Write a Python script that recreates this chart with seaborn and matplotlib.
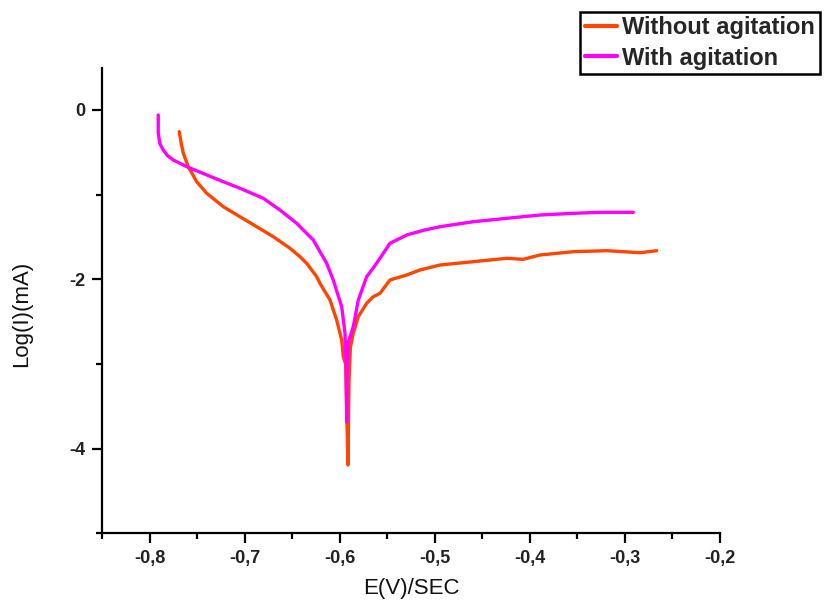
import matplotlib
matplotlib.use("Agg")
import matplotlib.pyplot as plt
import seaborn as sns
import pandas as pd
from matplotlib.ticker import FixedLocator, FuncFormatter, MultipleLocator
from matplotlib.lines import Line2D

# ---- data ----
series_names = ["Without agitation", "With agitation"]

e_without = [-0.7692, -0.7670, -0.7649, -0.7597, -0.7508, -0.7403, -0.7228, -0.7053, -0.6877,
             -0.6702, -0.6526, -0.6421, -0.6351, -0.6245, -0.6211, -0.6105, -0.6035,
             -0.5982, -0.5965, -0.5940, -0.5916, -0.5905, -0.5890, -0.5860, -0.5807,
             -0.5719, -0.5649, -0.5579, -0.5474, -0.5298, -0.5158, -0.4947, -0.4597,
             -0.4245, -0.4071, -0.3895, -0.3544, -0.3193, -0.2842, -0.2666]
log_i_without = [-0.256, -0.400, -0.511, -0.669, -0.847, -0.983, -1.142, -1.260, -1.378,
                 -1.496, -1.633, -1.732, -1.810, -1.968, -2.046, -2.243, -2.479,
                 -2.715, -2.913, -3.000, -4.191, -3.200, -2.800, -2.636, -2.440,
                 -2.282, -2.204, -2.164, -2.007, -1.948, -1.889, -1.830, -1.791,
                 -1.751, -1.763, -1.712, -1.673, -1.661, -1.685, -1.661]

e_with = [-0.7913, -0.7913, -0.7895, -0.7860, -0.7815, -0.7755, -0.7614, -0.7403, -0.7228,
          -0.7053, -0.6807, -0.6632, -0.6456, -0.6281, -0.6140, -0.6071, -0.5982, -0.5947,
          -0.5935, -0.5930, -0.5925, -0.5915, -0.5860, -0.5807, -0.5719, -0.5640, -0.5579,
          -0.5474, -0.5298, -0.5120, -0.4947, -0.4597, -0.4245, -0.3895, -0.3544, -0.3263,
          -0.2912]
log_i_with = [-0.059, -0.275, -0.400, -0.472, -0.540, -0.590, -0.669, -0.767, -0.847,
              -0.924, -1.043, -1.181, -1.338, -1.535, -1.810, -2.007, -2.322, -2.636,
              -3.000, -3.680, -3.000, -2.750, -2.558, -2.243, -1.968, -1.850, -1.751,
              -1.574, -1.476, -1.420, -1.378, -1.319, -1.279, -1.240, -1.220, -1.208,
              -1.208]

x_ticks = [-0.8, -0.7, -0.6, -0.5, -0.4, -0.3, -0.2]
y_ticks = [0, -2, -4]
y_minor = [-1, -3, -5]

colors = {"Without agitation": "#FF4500", "With agitation": "#FF00FF"}

df = pd.concat([
    pd.DataFrame({"E": e_without, "logI": log_i_without, "series": series_names[0]}),
    pd.DataFrame({"E": e_with, "logI": log_i_with, "series": series_names[1]}),
], ignore_index=True)

sns.set_style("ticks")
plt.rcParams["font.family"] = ["Liberation Sans", "DejaVu Sans"]

fig = plt.figure(figsize=(8.25, 6.05), dpi=100)
ax = fig.add_axes([0.1242, 0.1182, 0.7485, 0.770])

sns.lineplot(data=df, x="E", y="logI", hue="series", palette=colors,
             sort=False, estimator=None, units="series", lw=2.4, ax=ax, legend=False)
for ln in ax.lines:
    ln.set_solid_joinstyle("round")
    ln.set_solid_capstyle("round")

ax.set_xlim(-0.85, -0.2)
ax.set_ylim(-5, 0.5)
ax.xaxis.set_major_locator(FixedLocator(x_ticks))
ax.xaxis.set_minor_locator(MultipleLocator(0.05))
ax.yaxis.set_major_locator(FixedLocator(y_ticks))
ax.yaxis.set_minor_locator(FixedLocator(y_minor))
ax.xaxis.set_major_formatter(FuncFormatter(lambda v, p: f"{v:.1f}".replace(".", ",")))
ax.yaxis.set_major_formatter(FuncFormatter(lambda v, p: f"{v:.0f}"))

sns.despine(ax=ax)
for s in ["left", "bottom"]:
    ax.spines[s].set_linewidth(1.6)
    ax.spines[s].set_color("black")
ax.tick_params(which="major", length=7, width=1.6, labelsize=13, pad=5, color="black")
ax.tick_params(which="minor", length=4.5, width=1.6, color="black")
for lab in ax.get_xticklabels() + ax.get_yticklabels():
    lab.set_fontweight("bold")
    lab.set_color("#222222")

ax.set_xlabel("E(V)/SEC", fontsize=16, color="#111111")
ax.set_ylabel("Log(I)(mA)", fontsize=16, color="#111111")
ax.xaxis.set_label_coords(0.5, -0.095)
ax.yaxis.set_label_coords(-0.114, 0.471)

handles = [Line2D([], [], color=colors[n], lw=3) for n in series_names]
leg = fig.legend(handles, series_names, loc="upper left",
                 bbox_to_anchor=(580 / 825, 1 - 11.7 / 605),
                 frameon=True, fancybox=False, edgecolor="black", framealpha=1,
                 prop={"weight": "bold", "size": 17}, handlelength=1.35,
                 handletextpad=0.25, labelspacing=0.3, borderpad=0.2,
                 borderaxespad=0)
leg.get_frame().set_linewidth(1.8)

fig.savefig("out.png", dpi=100)
